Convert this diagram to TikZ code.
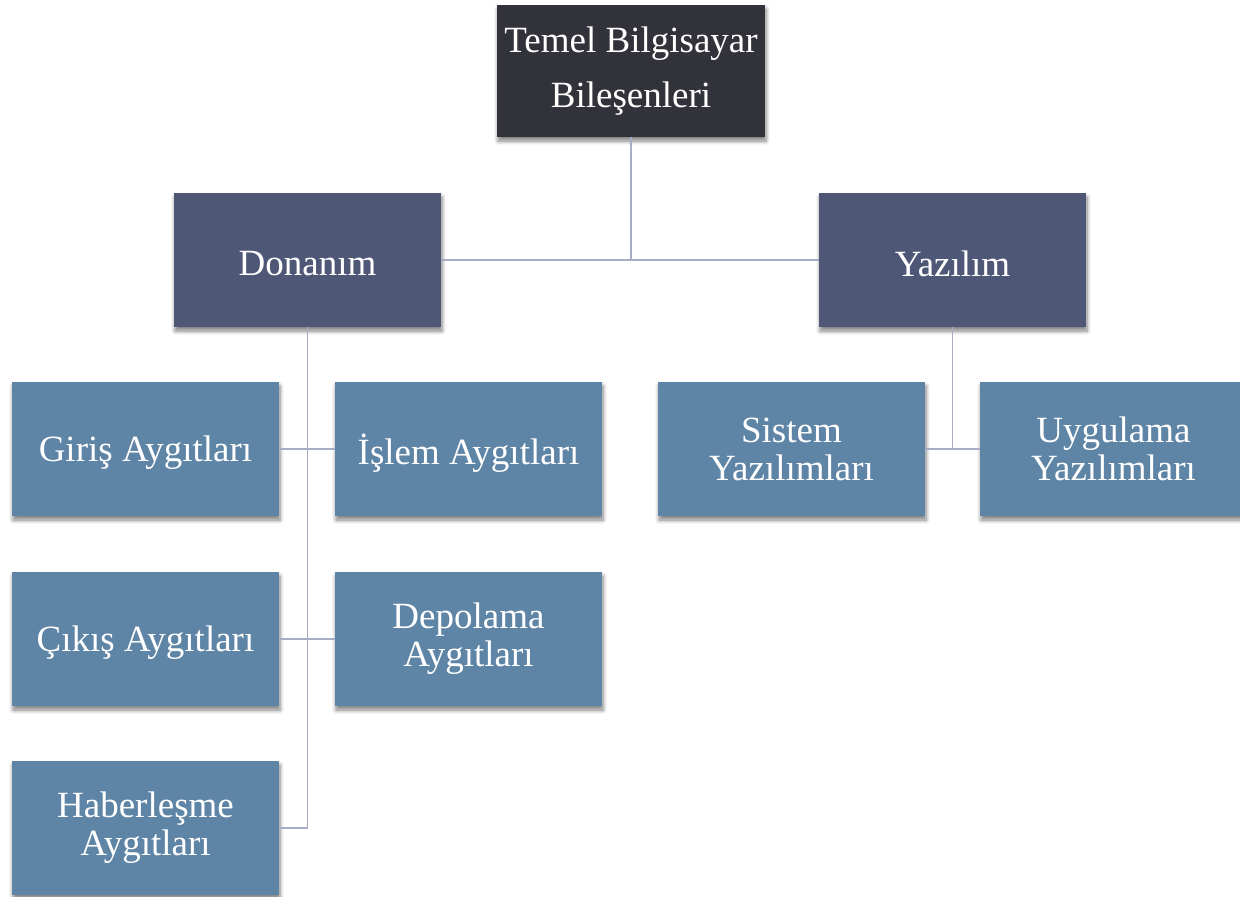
\documentclass[tikz,border=0pt]{standalone}
\usepackage{fontspec}
\setmainfont{Liberation Serif}
\usetikzlibrary{shadows,shadows.blur}
\definecolor{topc}{RGB}{50,50,58}
\definecolor{midc}{RGB}{78,87,118}
\definecolor{leafc}{RGB}{94,132,166}
\definecolor{connc}{RGB}{168,172,196}
\newcommand{\lowtxt}[1]{\raisebox{-4pt}[\height][\depth]{#1}}
\tikzset{
  box/.style={rectangle, minimum width=267pt, minimum height=134pt, inner sep=0pt,
    text=white, align=center, font=\fontsize{37}{38}\selectfont,
    blur shadow={shadow xshift=1pt, shadow yshift=-4pt, shadow blur radius=4pt, shadow blur steps=6, shadow opacity=50}},
  topbox/.style={box, fill=topc, minimum width=268pt, minimum height=132pt, font=\fontsize{37}{55}\selectfont},
  midbox/.style={box, fill=midc},
  leafbox/.style={box, fill=leafc},
  conn/.style={draw=connc, line width=1.8pt}
}
\begin{document}
\begin{tikzpicture}[x=1pt,y=-1pt]
\useasboundingbox (0,0) rectangle (1240,897);
\clip (0,0) rectangle (1240,897);
\node[topbox] (top) at (631,71) {Temel Bilgisayar\\Bileşenleri};
\node[midbox] (don) at (307.5,260) {\lowtxt{Donanım}};
\node[midbox] (yaz) at (952.5,260) {\lowtxt{Yazılım}};
\node[leafbox] (gir) at (145.5,449) {\lowtxt{Giriş Aygıtları}};
\node[leafbox] (isl) at (468.5,449) {\lowtxt{İşlem Aygıtları}};
\node[leafbox] (sis) at (791.5,449) {Sistem\\Yazılımları};
\node[leafbox] (uyg) at (1113.5,449) {Uygulama\\Yazılımları};
\node[leafbox] (cik) at (145.5,639) {\lowtxt{Çıkış Aygıtları}};
\node[leafbox] (dep) at (468.5,639) {Depolama\\Aygıtları};
\node[leafbox] (hab) at (145.5,828) {Haberleşme\\Aygıtları};
\draw[conn] (top.south) -- (top.south |- don.east);
\draw[conn] (don.east) -- (yaz.west);
\draw[conn] (don.south) -- (don.south |- hab.east) -- (hab.east);
\draw[conn] (gir.east) -- (isl.west);
\draw[conn] (cik.east) -- (dep.west);
\draw[conn] (yaz.south) -- (yaz.south |- sis.east);
\draw[conn] (sis.east) -- (uyg.west);
\end{tikzpicture}
\end{document}
